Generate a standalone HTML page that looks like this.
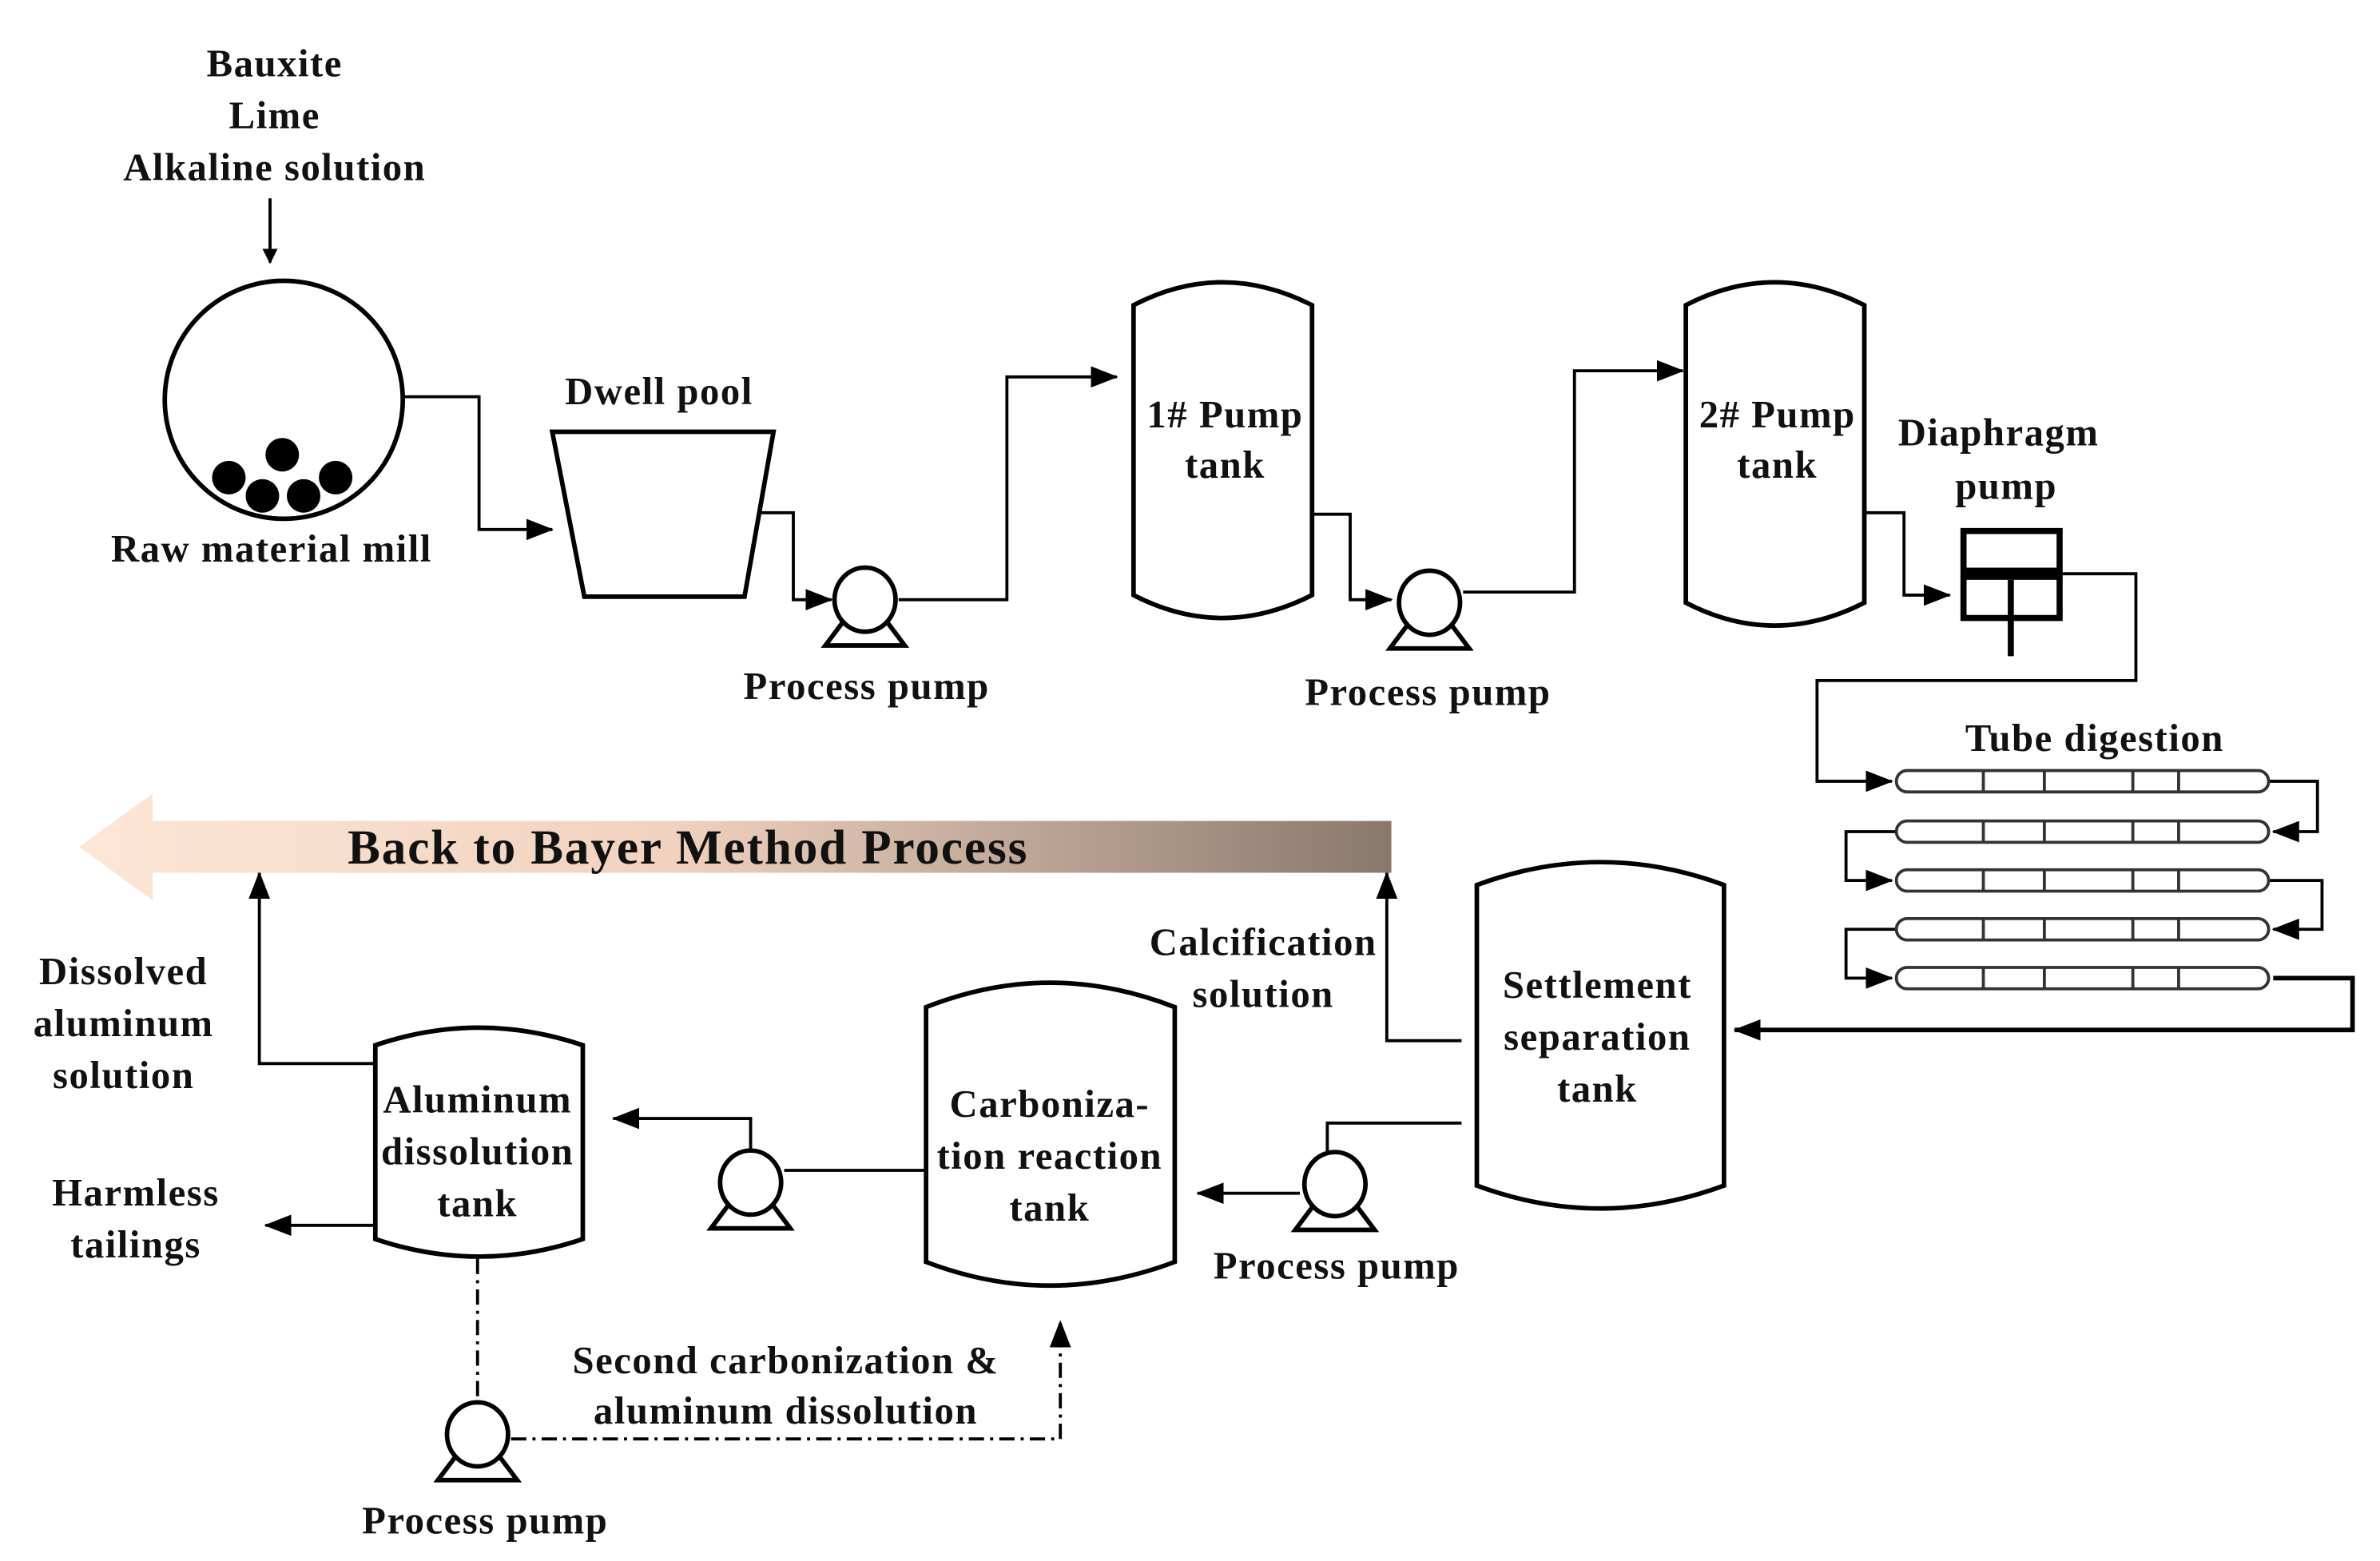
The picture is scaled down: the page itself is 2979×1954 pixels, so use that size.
<!DOCTYPE html>
<html><head><meta charset="utf-8"><style>
html,body{margin:0;padding:0;background:#fff}
svg{display:block}
text{font-family:"Liberation Serif",serif;font-weight:bold;font-size:25.5px;letter-spacing:0.8px;fill:#111;text-anchor:middle}
</style></head><body>
<svg width="2979" height="1954" viewBox="0 0 1560 1023" preserveAspectRatio="none" xmlns="http://www.w3.org/2000/svg">
<defs>
<marker id="a" markerWidth="10" markerHeight="10" refX="9" refY="5" orient="auto" markerUnits="userSpaceOnUse"><path d="M0,0 L10,5 L0,10 Z" fill="#000"/></marker>
<marker id="b" markerWidth="18" markerHeight="14" refX="17" refY="7" orient="auto" markerUnits="userSpaceOnUse"><path d="M0,0 L18,7 L0,14 Z" fill="#000"/></marker>
<linearGradient id="g" x1="0" x2="1" y1="0" y2="0"><stop offset="0" stop-color="#fde6d6"/><stop offset="0.45" stop-color="#f0d2bf"/><stop offset="1" stop-color="#8a786c"/></linearGradient>
<g id="pump"><path d="M-14,14 L14,14 L26,30 L-26,30 Z" fill="#fff" stroke="#000" stroke-width="3"/><ellipse cx="0" cy="0" rx="20" ry="21" fill="#fff" stroke="#000" stroke-width="3"/></g>
<g id="tube"><rect x="1243" y="-7" width="244" height="14" rx="7" fill="#fff" stroke="#333" stroke-width="2"/><path d="M1300,-7V7M1340,-7V7M1398,-7V7M1428,-7V7" stroke="#333" stroke-width="2"/></g>
</defs>
<g fill="none" stroke="#000" stroke-width="2">
<path d="M177,130V172" marker-end="url(#a)"/>
<path d="M264,260H314V347H362" marker-end="url(#b)"/>
<path d="M493,336H520V393H545" marker-end="url(#b)"/>
<path d="M589,393H660V247H732" marker-end="url(#b)"/>
<path d="M860,337H885V393H912" marker-end="url(#b)"/>
<path d="M959,388H1032V243H1103" marker-end="url(#b)"/>
<path d="M1222,336H1248V390H1278" marker-end="url(#b)"/>
<path d="M1350,376H1400V446H1191V512H1240" marker-end="url(#b)"/>
<path d="M1487,512H1519V545H1490" marker-end="url(#b)"/>
<path d="M1243,545H1210V577H1240" marker-end="url(#b)"/>
<path d="M1487,577H1522V609H1490" marker-end="url(#b)"/>
<path d="M1243,609H1210V641H1240" marker-end="url(#b)"/>
<path d="M1490,641H1542V675H1137" stroke-width="3" marker-end="url(#b)"/>
<path d="M958,682H909V572" marker-end="url(#b)"/>
<path d="M958,736H870V756"/>
<path d="M852,782H785" marker-end="url(#b)"/>
<path d="M607,767H514"/>
<path d="M492,753V733H402" marker-end="url(#b)"/>
<path d="M246,697H170V572" marker-end="url(#b)"/>
<path d="M246,803H174" marker-end="url(#b)"/>
<path d="M313,825V918M335,943H695V866" stroke-dasharray="10,4,2,4" marker-end="url(#b)"/>
</g>
<circle cx="186" cy="262" r="78" fill="none" stroke="#000" stroke-width="3"/>
<g fill="#000"><circle cx="150" cy="313" r="11"/><circle cx="185" cy="298" r="11"/><circle cx="220" cy="313" r="11"/><circle cx="172" cy="325" r="11"/><circle cx="199" cy="325" r="11"/></g>
<path d="M362,283H507L488,391H383Z" fill="#fff" stroke="#000" stroke-width="3"/>
<g fill="#fff" stroke="#000" stroke-width="3">
<path d="M743,200Q801,170 860,200V390Q801,420 743,390Z"/>
<path d="M1105,200Q1163,170 1222,200V395Q1163,425 1105,395Z"/>
<path d="M968,580Q1049,550 1130,580V777Q1049,807 968,777Z"/>
<path d="M607,660Q688,628 770,660V827Q688,858 607,827Z"/>
<path d="M246,685Q314,662 382,685V812Q314,835 246,812Z"/>
<rect x="1287" y="348" width="63" height="57" stroke-width="4"/>
</g>
<rect x="1287" y="372" width="63" height="8" fill="#000"/>
<path d="M1318,380V430" stroke="#000" stroke-width="4"/>
<use href="#pump" x="567" y="393"/><use href="#pump" x="937" y="395"/><use href="#pump" x="875" y="776"/><use href="#pump" x="492" y="775"/><use href="#pump" x="313" y="940"/>
<use href="#tube" y="512"/><use href="#tube" y="545"/><use href="#tube" y="577"/><use href="#tube" y="609"/><use href="#tube" y="641"/>
<path d="M912,538V572H100V590L52,555L100,520V538Z" fill="url(#g)"/>
<text x="451" y="566" style="font-size:32px;letter-spacing:1px">Back to Bayer Method Process</text>
<text x="180" y="50">Bauxite</text><text x="180" y="84">Lime</text><text x="180" y="118">Alkaline solution</text>
<text x="178" y="368">Raw material mill</text>
<text x="432" y="265">Dwell pool</text>
<text x="568" y="458">Process pump</text>
<text x="936" y="462">Process pump</text>
<text x="803" y="280">1# Pump</text><text x="803" y="313">tank</text>
<text x="1165" y="280">2# Pump</text><text x="1165" y="313">tank</text>
<text x="1310" y="292">Diaphragm</text><text x="1315" y="327">pump</text>
<text x="1373" y="492">Tube digestion</text>
<text x="1047" y="654">Settlement</text><text x="1047" y="688">separation</text><text x="1047" y="722">tank</text>
<text x="828" y="626">Calcification</text><text x="828" y="660">solution</text>
<text x="876" y="838">Process pump</text>
<text x="688" y="732">Carboniza-</text><text x="688" y="766">tion reaction</text><text x="688" y="800">tank</text>
<text x="313" y="729">Aluminum</text><text x="313" y="763">dissolution</text><text x="313" y="797">tank</text>
<text x="81" y="645">Dissolved</text><text x="81" y="679">aluminum</text><text x="81" y="713">solution</text>
<text x="89" y="790">Harmless</text><text x="89" y="824">tailings</text>
<text x="515" y="900">Second carbonization &amp;</text><text x="515" y="933">aluminum  dissolution</text>
<text x="318" y="1005">Process pump</text>
</svg>
</body></html>
